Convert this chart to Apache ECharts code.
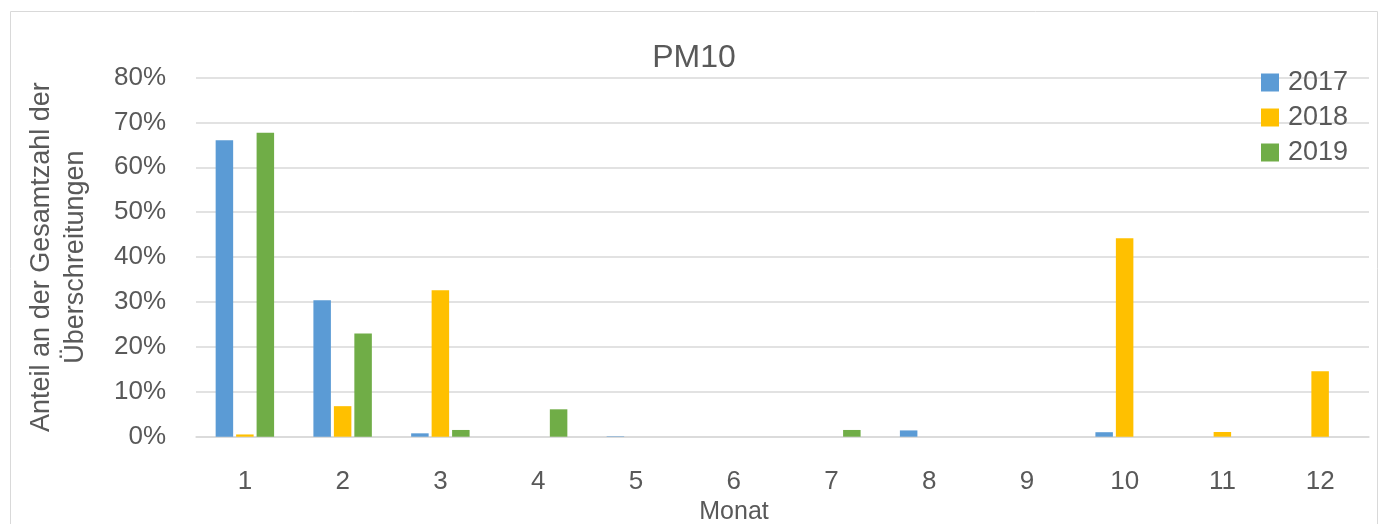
<!DOCTYPE html>
<html>
<head>
<meta charset="utf-8">
<script src="https://cdn.jsdelivr.net/npm/echarts@6/dist/echarts.min.js"></script>
<style>
  html, body { margin: 0; padding: 0; background: #fff; }
  #chart { width: 1381px; height: 524px; }
</style>
</head>
<body>
<div id="chart"></div>
<script>
// Monthly share of PM10 limit exceedances (percent of the yearly total)
const months = ['1', '2', '3', '4', '5', '6', '7', '8', '9', '10', '11', '12'];
const share2017 = [66.0, 30.4, 0.75, 0, 0.1, 0, 0, 1.4, 0, 1.0, 0, 0];
const share2018 = [0.5, 6.8, 32.6, 0, 0, 0, 0, 0, 0, 44.2, 1.05, 14.6];
const share2019 = [67.7, 23.0, 1.5, 6.1, 0, 0, 1.5, 0, 0, 0, 0, 0];
const yTicks = { min: 0, max: 80, step: 10 };

const textColor = '#595959';
const gridColor = '#d9d9d9';
const font = 'Liberation Sans, Arial, sans-serif';

const chart = echarts.init(document.getElementById('chart'));

function barSeries(name, data, color) {
  return {
    name: name,
    type: 'bar',
    data: data,
    barWidth: 17.5,
    barGap: '17%',
    itemStyle: { color: color },
    emphasis: { disabled: true }
  };
}

chart.setOption({
  animation: false,
  textStyle: { fontFamily: font },
  title: {
    text: 'PM10',
    left: 694,
    textAlign: 'center',
    top: 42,
    padding: 0,
    textStyle: { fontFamily: font, fontSize: 32, fontWeight: 'normal', color: textColor }
  },
  legend: {
    orient: 'vertical',
    left: 1261,
    top: 69,
    padding: 0,
    itemWidth: 18,
    itemHeight: 18,
    itemGap: 8,
    icon: 'rect',
    textStyle: { fontFamily: font, fontSize: 27, color: textColor, padding: [0, 0, 0, 4] },
    data: ['2017', '2018', '2019']
  },
  grid: { left: 196, right: 12, top: 77.5, bottom: 87.3, containLabel: false, outerBoundsMode: 'none' },
  xAxis: {
    type: 'category',
    data: months,
    name: 'Monat',
    nameLocation: 'middle',
    nameGap: 62,
    nameTextStyle: { fontFamily: font, fontSize: 25, color: textColor, padding: [0, 97, 0, 0] },
    axisLine: { show: true, lineStyle: { color: gridColor, width: 1.5 } },
    axisTick: { show: false },
    axisLabel: { fontFamily: font, fontSize: 26, color: textColor, margin: 32 }
  },
  yAxis: {
    type: 'value',
    min: yTicks.min,
    max: yTicks.max,
    interval: yTicks.step,
    name: 'Anteil an der Gesamtzahl der\nÜberschreitungen',
    nameLocation: 'middle',
    nameRotate: 90,
    nameGap: 103,
    nameTextStyle: { fontFamily: font, fontSize: 27, color: textColor, lineHeight: 34, align: 'center' },
    axisLine: { show: false },
    axisTick: { show: false },
    axisLabel: { fontFamily: font, fontSize: 26, color: textColor, margin: 30, formatter: '{value}%' },
    splitLine: { show: true, lineStyle: { color: gridColor, width: 1.5 } }
  },
  graphic: [{
    type: 'rect',
    shape: { x: 10.5, y: 11.5, width: 1367, height: 520 },
    style: { fill: 'none', stroke: gridColor, lineWidth: 1 },
    silent: true,
    z: -1
  }],
  series: [
    barSeries('2017', share2017, '#5b9bd5'),
    barSeries('2018', share2018, '#ffc000'),
    barSeries('2019', share2019, '#70ad47')
  ]
});
</script>
</body>
</html>
